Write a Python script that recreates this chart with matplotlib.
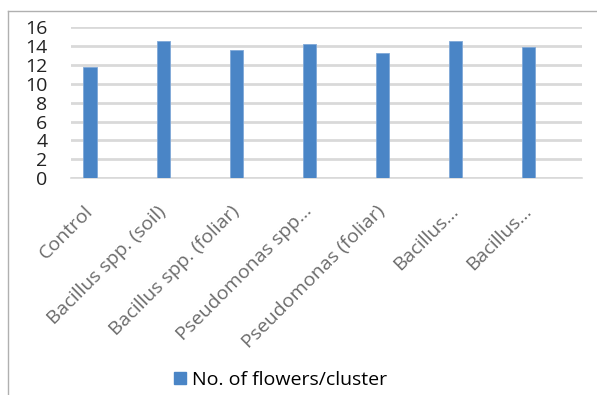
import matplotlib
matplotlib.use("Agg")
import matplotlib.pyplot as plt
from matplotlib.lines import Line2D
from matplotlib.patches import Patch

# treatments and mean flower counts per cluster
categories = [
    "Control",
    "Bacillus spp. (soil)",
    "Bacillus spp. (foliar)",
    "Pseudomonas spp...",
    "Pseudomonas (foliar)",
    "Bacillus...",
    "Bacillus...",
]
flowers_per_cluster = [11.8, 14.5, 13.6, 14.2, 13.3, 14.5, 13.9]
y_ticks = [0, 2, 4, 6, 8, 10, 12, 14, 16]
series_name = "No. of flowers/cluster"

BAR_COLOR = "#4a85c6"
GRID_COLOR = "#d9d9d9"
TEXT_GRAY = "#6b6b6b"

plt.rcParams["font.family"] = ["Open Sans", "DejaVu Sans"]

fig = plt.figure(figsize=(5.97, 3.95), dpi=100)
ax = fig.add_axes([0.119, 0.549, 0.856, 0.382])

x = range(len(categories))
ax.bar(x, flowers_per_cluster, width=0.18, color=BAR_COLOR,
       edgecolor="#7fa8d8", linewidth=0.6, zorder=3)

ax.set_ylim(0, 16)
ax.set_xlim(-0.26, 6.73)
ax.set_yticks(y_ticks)
ax.set_yticklabels([str(v) for v in y_ticks], fontsize=14, color="#222222")
ax.tick_params(axis="y", length=0, pad=17)
ax.yaxis.grid(True, color=GRID_COLOR, linewidth=2.0, zorder=0)

ax.set_xticks(list(x))
ax.set_xticklabels(categories, rotation=45, ha="right", va="center",
                   rotation_mode="anchor", fontsize=14, color=TEXT_GRAY)
ax.tick_params(axis="x", length=0, pad=22)

for side in ("top", "right", "left"):
    ax.spines[side].set_visible(False)
ax.spines["bottom"].set_color(GRID_COLOR)
ax.spines["bottom"].set_linewidth(1.2)

# legend under the category labels
handle = Patch(facecolor=BAR_COLOR, edgecolor=BAR_COLOR)
fig.legend([handle], [series_name], loc="center", bbox_to_anchor=(0.47, 0.038),
           frameon=False, fontsize=14, handlelength=0.6, handleheight=0.6,
           handletextpad=0.3)

# outer chart border (top and left edges)
fig.add_artist(Line2D([0.013, 1.0], [0.972, 0.972], transform=fig.transFigure,
                      color="#b0b0b0", linewidth=1.0))
fig.add_artist(Line2D([0.013, 0.013], [0.0, 0.972], transform=fig.transFigure,
                      color="#b0b0b0", linewidth=1.0))

fig.savefig("out.png", dpi=100)
